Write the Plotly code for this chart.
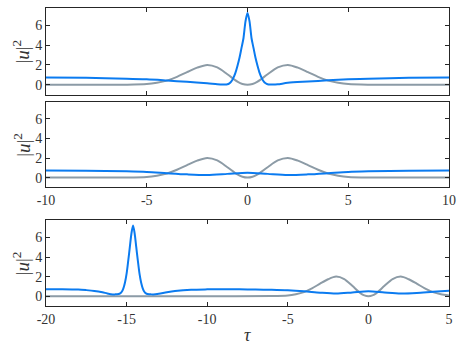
import plotly.graph_objects as go

# ---------------- data ----------------
# Panel 1 (tau in [-10, 10])
tau1 = [-10, -8, -6, -5, -4, -3, -2, -1.5, -1.2, -1.1, -1.0, -0.9, -0.8, -0.7, -0.6, -0.5, -0.4, -0.3, -0.2, -0.1, 0,
        0.1, 0.2, 0.3, 0.4, 0.5, 0.6, 0.7, 0.8, 0.9, 1.0, 1.1, 1.2, 1.5, 2, 3, 4, 5, 6, 8, 10]
blue1 = [0.74, 0.7, 0.62, 0.55, 0.43, 0.3, 0.15, 0.05, 0.02, 0.02, 0.05, 0.15, 0.35, 0.7, 1.2, 1.9, 2.7, 3.7, 4.7, 6.4, 7.25,
         6.4, 4.7, 3.7, 2.7, 1.9, 1.2, 0.7, 0.35, 0.15, 0.05, 0.02, 0.02, 0.05, 0.2, 0.33, 0.45, 0.55, 0.62, 0.7, 0.74]

tau_g = [-10, -8, -6, -5, -4.5, -4, -3.5, -3, -2.5, -2, -1.5, -1, -0.5, -0.25, 0,
         0.25, 0.5, 1, 1.5, 2, 2.5, 3, 3.5, 4, 4.5, 5, 6, 8, 10]
gray1 = [0, 0, 0.01, 0.07, 0.2, 0.42, 0.8, 1.28, 1.73, 2.0, 1.75, 1.06, 0.32, 0.08, 0,
         0.08, 0.32, 1.06, 1.75, 2.0, 1.73, 1.28, 0.8, 0.42, 0.2, 0.07, 0.01, 0, 0]

# Panel 2 (tau in [-10, 10])
tau2 = [-10, -8, -6, -5, -4, -3, -2, -1, 0, 1, 2, 3, 4, 5, 6, 8, 10]
blue2 = [0.72, 0.7, 0.64, 0.58, 0.45, 0.33, 0.27, 0.38, 0.5, 0.38, 0.27, 0.33, 0.45, 0.58, 0.64, 0.7, 0.72]
gray2 = gray1

# Panel 3 (tau in [-20, 5])
tau3 = [-20, -19, -18, -17.5, -17, -16.5, -16.2, -15.85, -15.7, -15.6, -15.5, -15.4, -15.3, -15.2, -15.1,
        -15.0, -14.9, -14.8, -14.7, -14.6, -14.5, -14.4, -14.3, -14.2, -14.1, -14.0, -13.9, -13.8,
        -13.7, -13.6, -13.5, -13.35, -13.0, -12.5, -12, -11, -10, -9, -8, -7, -6, -5, -4, -3, -2, -1,
        0, 1, 2, 3, 4, 5]
blue3 = [0.71, 0.71, 0.68, 0.62, 0.54, 0.4, 0.28, 0.18, 0.19, 0.2, 0.22, 0.28, 0.45, 0.8, 1.4,
         2.3, 3.6, 5.0, 6.4, 7.22, 6.4, 5.0, 3.6, 2.3, 1.4, 0.8, 0.45, 0.28,
         0.22, 0.2, 0.19, 0.18, 0.25, 0.4, 0.52, 0.66, 0.7, 0.71, 0.7, 0.68, 0.65, 0.6, 0.5, 0.36, 0.27, 0.38,
         0.5, 0.38, 0.28, 0.33, 0.45, 0.55]
tau3g = [-20, -15, -10, -6, -5, -4.5, -4, -3.5, -3, -2.5, -2, -1.5, -1, -0.5, -0.25, 0,
         0.25, 0.5, 1, 1.5, 2, 2.5, 3, 3.5, 4, 4.5, 5]
gray3 = [0, 0, 0, 0.01, 0.07, 0.2, 0.42, 0.8, 1.28, 1.73, 2.0, 1.75, 1.06, 0.32, 0.08, 0,
         0.08, 0.32, 1.06, 1.75, 2.0, 1.73, 1.28, 0.8, 0.42, 0.2, 0.08]

xticks12 = [-10, -5, 0, 5, 10]
xticks3 = [-20, -15, -10, -5, 0, 5]
yticks = [0, 2, 4, 6]

# ---------------- styling ----------------
BLUE = "#0b7bf0"
GRAY = "#8c9ba6"
AXC = "#262626"
TXT = "#333333"
FONT = "Liberation Serif"

fig = go.Figure()
panels = [
    (tau1, blue1, tau_g, gray1, "x", "y"),
    (tau2, blue2, tau_g, gray2, "x2", "y2"),
    (tau3, blue3, tau3g, gray3, "x3", "y3"),
]
for tb, b, tg, g, xa, ya in panels:
    fig.add_trace(go.Scatter(x=tg, y=g, mode="lines", xaxis=xa, yaxis=ya,
                             line=dict(color=GRAY, width=2, shape="spline", smoothing=0.8),
                             showlegend=False, hoverinfo="skip"))
    fig.add_trace(go.Scatter(x=tb, y=b, mode="lines", xaxis=xa, yaxis=ya,
                             line=dict(color=BLUE, width=2, shape="spline", smoothing=0.8),
                             showlegend=False, hoverinfo="skip"))

def xax(rng, ticks, anchor, show_labels):
    return dict(range=rng, tickvals=ticks, ticktext=[str(t) for t in ticks],
                showticklabels=show_labels, anchor=anchor, ticklabeloverflow="allow",
                showline=True, linecolor=AXC, linewidth=1, mirror="ticks",
                ticks="inside", ticklen=4, tickcolor=AXC, tickwidth=1,
                showgrid=False, zeroline=False,
                tickfont=dict(family=FONT, size=14, color=TXT))

def yax(domain, anchor):
    return dict(domain=domain, range=[-1, 7.75], tickvals=yticks, ticktext=[str(t) for t in yticks],
                anchor=anchor, showline=True, linecolor=AXC, linewidth=1, mirror="ticks",
                ticks="inside", ticklen=4, tickcolor=AXC, tickwidth=1,
                showgrid=False, zeroline=False,
                tickfont=dict(family=FONT, size=14, color=TXT))

H = 348
top, bot = 7, 306
ph = bot - top
def dom(y0, y1):
    return [1 - (y1 - top) / ph, 1 - (y0 - top) / ph]

d1 = dom(7, 94)
d2 = dom(101, 187)
d3 = dom(220, 306)

fig.update_layout(
    width=463, height=H,
    margin=dict(l=46, r=10, t=top, b=H - bot),
    paper_bgcolor="white", plot_bgcolor="white",
    font=dict(family=FONT, color=TXT),
    xaxis=xax([-10, 10], xticks12, "y", False),
    xaxis2=xax([-10, 10], xticks12, "y2", True),
    xaxis3=xax([-20, 5], xticks3, "y3", True),
    yaxis=yax(d1, "x"),
    yaxis2=yax(d2, "x2"),
    yaxis3=yax(d3, "x3"),
)

ann = []
for d in (d1, d2, d3):
    ann.append(dict(text="|<i>u</i>|<sup>2</sup>", xref="paper", yref="paper",
                    x=(21 - 46) / 407, y=(d[0] + d[1]) / 2, textangle=-90,
                    showarrow=False, xanchor="center", yanchor="middle",
                    font=dict(family=FONT, size=19, color=TXT)))
ann.append(dict(text="<i>τ</i>", xref="paper", yref="paper",
                x=(249 - 46) / 407, y=(bot - 335) / ph, showarrow=False,
                xanchor="center", yanchor="middle",
                font=dict(family=FONT, size=18, color=TXT)))
fig.update_layout(annotations=ann)

fig.write_html("out.html",
               config={"displayModeBar": False},
               post_script="document.body.style.margin='0';document.body.style.padding='0';")
